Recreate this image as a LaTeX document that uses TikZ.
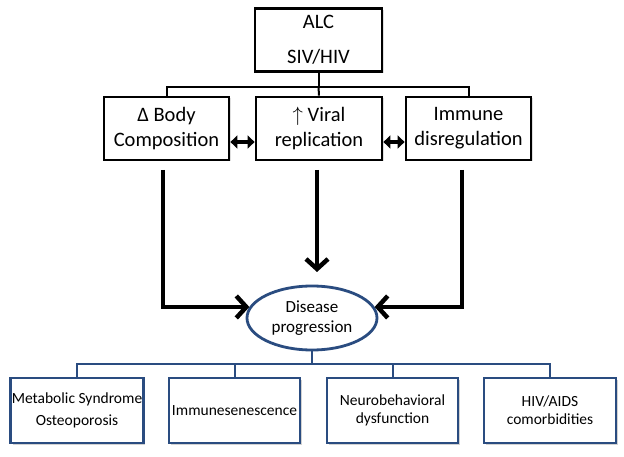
\documentclass[tikz,border=0pt]{standalone}
\usepackage{fontspec}
\setmainfont{Carlito}
\usetikzlibrary{arrows.meta,shadows,shapes.geometric}
\definecolor{navy}{HTML}{2A4C80}
\begin{document}
\begin{tikzpicture}[x=1pt,y=-1pt,
 topbox/.style={draw=black,line width=2.8pt,fill=white,minimum height=63pt,align=center,
   font=\fontsize{20.5}{25}\selectfont,inner sep=0pt,
   drop shadow={shadow xshift=1.5pt,shadow yshift=-1.5pt,opacity=0.25}},
 botbox/.style={draw=navy,line width=2.8pt,fill=white,minimum height=65pt,align=center,
   font=\fontsize{15.5}{18}\selectfont,inner sep=1pt,
   drop shadow={shadow xshift=2pt,shadow yshift=-2pt,opacity=0.35}},
 conn/.style={line width=2pt,draw=black},
 navconn/.style={line width=2pt,draw=navy},
 big/.style={line width=4.5pt,-{Straight Barb[length=10pt,width=22pt]}},
 dbl/.style={line width=3.8pt,{Triangle[length=7pt,width=13pt]}-{Triangle[length=7pt,width=13pt]}}
]
\useasboundingbox[fill=white] (0,0) rectangle (624,457);

% top boxes
\node[topbox,minimum width=127pt] (alc) at (318.5,40) {ALC\\[10pt]SIV/HIV};
\node[topbox,minimum width=125pt] (body) at (166.5,128.5) {Δ Body\\Composition};
\node[topbox,minimum width=126pt] (viral) at (319,128.5) {$\uparrow$ Viral\\replication};
\node[topbox,minimum width=125pt] (immune) at (468.5,128.5) {Immune\\disregulation};

% tree connector
\draw[conn] (alc.south) -- ++(0,14) coordinate (j1);
\draw[conn] (body.north) |- (j1) -| (immune.north);
\draw[conn] (j1) -- (viral.north);

% double arrows
\draw[dbl] (body.east |- 0,142) -- (viral.west |- 0,142);
\draw[dbl] (viral.east |- 0,142) -- (immune.west |- 0,142);

% ellipse
\node[draw=navy,line width=2.8pt,ellipse,minimum width=130pt,minimum height=64pt,inner sep=0pt,
  align=center,font=\fontsize{17}{20}\selectfont,fill=white] (dis) at (312,318) {Disease\\progression};

% thick arrows
\coordinate (s1) at (163,170);
\coordinate (s2) at (317,170);
\coordinate (s3) at (462,170);
\coordinate (e2) at (317,272);
\draw[big] (s1) |- (dis.170);
\draw[big] (s2) -- (e2);
\draw[big] (s3) |- (dis.10);

% bottom boxes
\node[botbox,minimum width=132pt] (b1) at (77,410.5) {Metabolic Syndrome\\[4pt]Osteoporosis};
\node[botbox,minimum width=131pt] (b2) at (234.5,410.5) {Immunesenescence};
\node[botbox,minimum width=131pt] (b3) at (392.5,410.5) {Neurobehavioral\\dysfunction};
\node[botbox,minimum width=132pt] (b4) at (550,410.5) {HIV/AIDS\\comorbidities};

\draw[navconn] (dis.south) -- ++(0,13) coordinate (j2);
\draw[navconn] (b1.north) |- (j2) -| (b4.north);
\draw[navconn] (b2.north) |- (j2);
\draw[navconn] (b3.north) |- (j2);
\end{tikzpicture}
\end{document}
